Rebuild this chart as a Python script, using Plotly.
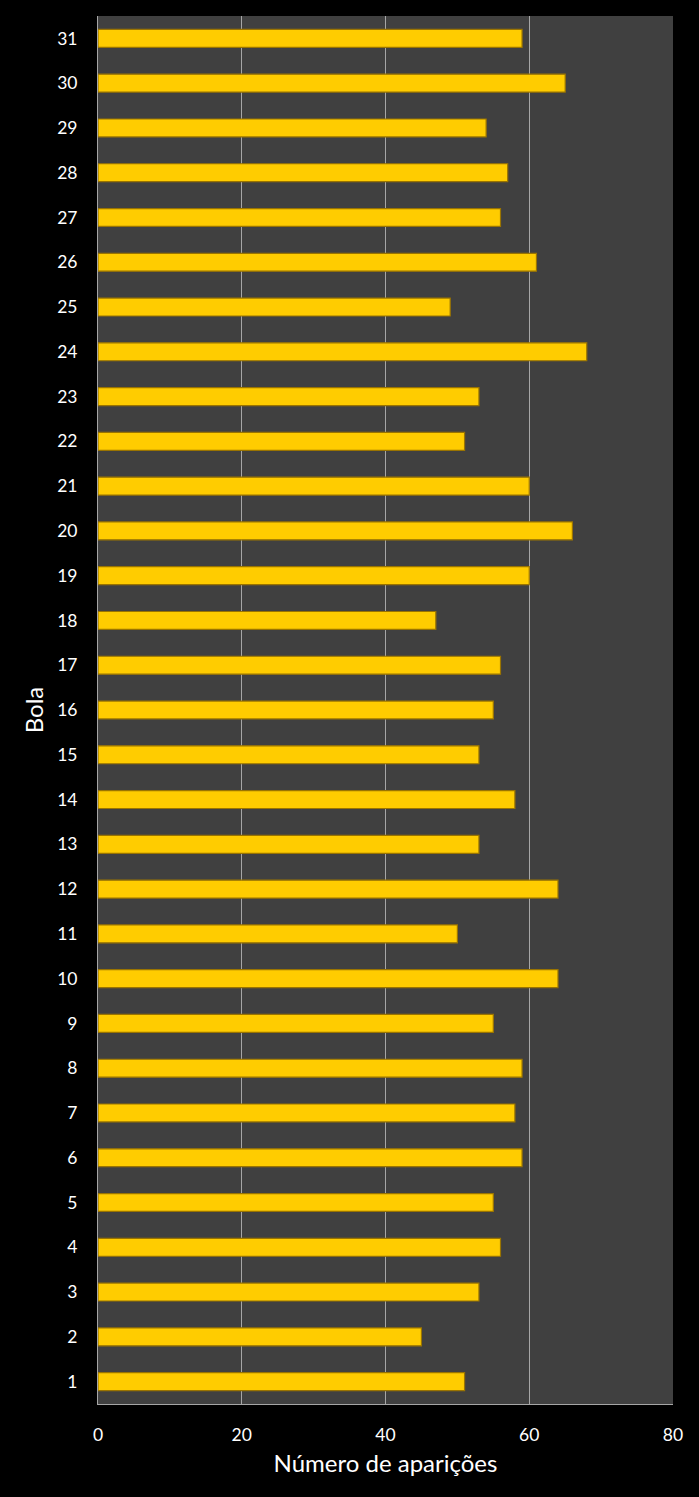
import plotly.graph_objects as go

bolas = [str(i) for i in range(1, 32)]
aparicoes = [51, 45, 53, 56, 55, 59, 58, 59, 55, 64,
             50, 64, 53, 58, 53, 55, 56, 47, 60, 66,
             60, 51, 53, 68, 49, 61, 56, 57, 54, 65, 59]
x_ticks = [0, 20, 40, 60, 80]

FONT = "Lato, 'Open Sans', sans-serif"

fig = go.Figure()
fig.add_trace(go.Bar(
    y=bolas, x=aparicoes, orientation="h",
    width=0.4,
    marker=dict(color="#FFCC00", line=dict(color="#9A7400", width=1.2)),
    hoverinfo="x+y",
))

fig.update_layout(
    width=699, height=1497,
    margin=dict(l=98, r=26, t=16, b=93),
    paper_bgcolor="#000000",
    plot_bgcolor="#404040",
    showlegend=False,
    font=dict(family=FONT, color="#FFFFFF", size=17),
    bargap=0.6,
)
fig.update_xaxes(
    range=[0, 80], tickvals=x_ticks, ticktext=[str(v) for v in x_ticks],
    showgrid=True, gridcolor="#A6A6A6", gridwidth=1,
    showline=True, linecolor="#A6A6A6", linewidth=1,
    ticks="outside", ticklen=15, tickcolor="rgba(0,0,0,0)",
    zeroline=False,
    title=dict(text="Número de aparições", font=dict(size=24, color="#FFFFFF"), standoff=11),
    tickfont=dict(size=17.5, color="#FFFFFF"),
)
fig.update_yaxes(
    type="category", categoryorder="array", categoryarray=bolas,
    showgrid=False,
    showline=True, linecolor="#A6A6A6", linewidth=1,
    ticks="outside", ticklen=16, tickcolor="rgba(0,0,0,0)",
    title=dict(text="Bola", font=dict(size=24, color="#FFFFFF"), standoff=6),
    tickfont=dict(size=17.5, color="#FFFFFF"),
)

fig.write_html("out.html")
